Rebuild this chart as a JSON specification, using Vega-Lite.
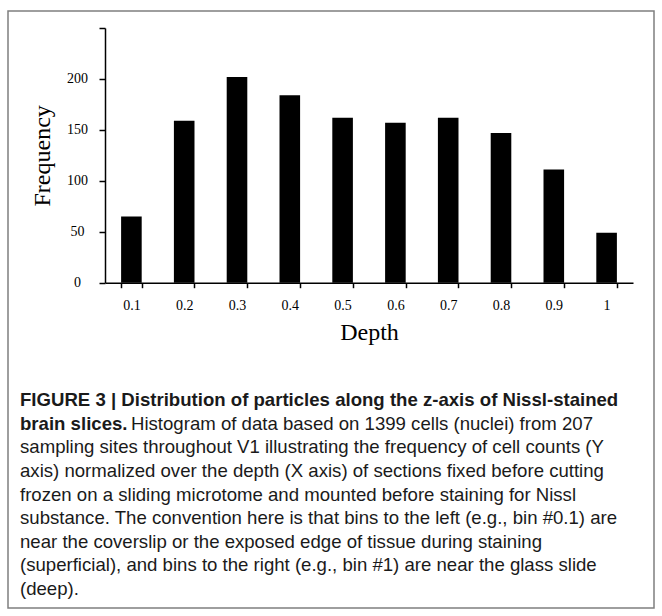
{
  "$schema": "https://vega.github.io/schema/vega-lite/v6.json",
  "width": 646,
  "height": 597,
  "padding": {"left": 8, "top": 11, "right": 8, "bottom": 8},
  "autosize": {"type": "none"},
  "background": "white",
  "config": {
    "view": {"stroke": "#7f7f7f", "strokeWidth": 1.5},
    "axis": {"domainColor": "black", "tickColor": "black", "labelColor": "black", "titleColor": "black", "grid": false, "labelFont": "Liberation Serif", "titleFont": "Liberation Serif", "titleFontWeight": "normal"}
  },
  "datasets": {
    "bars": [
      {"depth": "0.1", "frequency": 65},
      {"depth": "0.2", "frequency": 159},
      {"depth": "0.3", "frequency": 202},
      {"depth": "0.4", "frequency": 184},
      {"depth": "0.5", "frequency": 162},
      {"depth": "0.6", "frequency": 157},
      {"depth": "0.7", "frequency": 162},
      {"depth": "0.8", "frequency": 147},
      {"depth": "0.9", "frequency": 111},
      {"depth": "1", "frequency": 49}
    ],
    "caption": [
      {"line": 1, "part": "title", "text": "FIGURE 3 | Distribution of particles along the z-axis of Nissl-stained"},
      {"line": 2, "part": "title", "text": "brain slices."},
      {"line": 2, "part": "lead", "text": "Histogram of data based on 1399 cells (nuclei) from 207"},
      {"line": 3, "part": "body", "text": "sampling sites throughout V1 illustrating the frequency of cell counts (Y"},
      {"line": 4, "part": "body", "text": "axis) normalized over the depth (X axis) of sections fixed before cutting"},
      {"line": 5, "part": "body", "text": "frozen on a sliding microtome and mounted before staining for Nissl"},
      {"line": 6, "part": "body", "text": "substance. The convention here is that bins to the left (e.g., bin #0.1) are"},
      {"line": 7, "part": "body", "text": "near the coverslip or the exposed edge of tissue during staining"},
      {"line": 8, "part": "body", "text": "(superficial), and bins to the right (e.g., bin #1) are near the glass slide"},
      {"line": 9, "part": "body", "text": "(deep)."}
    ]
  },
  "layer": [
    {
      "data": {"name": "bars"},
      "mark": {"type": "bar", "color": "black"},
      "encoding": {
        "x": {
          "field": "depth", "type": "ordinal",
          "scale": {"range": [97, 625], "paddingInner": 0.61, "paddingOuter": 0.305},
          "axis": {"title": "Depth", "labelAngle": 0, "offset": -325.3, "tickBand": "extent", "tickSize": 5, "domainWidth": 1.5, "tickWidth": 1.5, "labelFontSize": 14, "labelPadding": 11, "titleFontSize": 24, "titlePadding": 8}
        },
        "y": {
          "field": "frequency", "type": "quantitative",
          "scale": {"domain": [0, 250], "range": [271.7, 17], "nice": false},
          "axis": {"title": "Frequency", "offset": -97, "values": [0, 50, 100, 150, 200, 250], "labelExpr": "datum.value == 250 ? '' : datum.label", "tickSize": 6, "domainWidth": 1.5, "tickWidth": 1.5, "labelFontSize": 14, "labelAlign": "center", "labelPadding": 22, "titleFontSize": 24, "titlePadding": 12}
        }
      }
    },
    {
      "data": {"name": "caption"},
      "transform": [{"filter": "datum.part == 'title'"}],
      "mark": {"type": "text", "align": "left", "baseline": "middle", "font": "Liberation Sans", "fontWeight": "bold", "fontSize": 18.6, "color": "#1a1a1a"},
      "encoding": {
        "x": {"datum": 0, "type": "quantitative", "scale": {"domain": [0, 1], "range": [12, 646]}, "axis": null},
        "y": {"field": "line", "type": "quantitative", "scale": {"domain": [1, 9], "range": [389, 578]}, "axis": null},
        "text": {"field": "text"}
      }
    },
    {
      "data": {"name": "caption"},
      "transform": [{"filter": "datum.part == 'lead'"}],
      "mark": {"type": "text", "align": "left", "baseline": "middle", "font": "Liberation Sans", "fontSize": 18.6, "dx": 111, "color": "#1a1a1a"},
      "encoding": {
        "x": {"datum": 0, "type": "quantitative", "scale": {"domain": [0, 1], "range": [12, 646]}, "axis": null},
        "y": {"field": "line", "type": "quantitative", "scale": {"domain": [1, 9], "range": [389, 578]}, "axis": null},
        "text": {"field": "text"}
      }
    },
    {
      "data": {"name": "caption"},
      "transform": [{"filter": "datum.part == 'body'"}],
      "mark": {"type": "text", "align": "left", "baseline": "middle", "font": "Liberation Sans", "fontSize": 18.6, "color": "#1a1a1a"},
      "encoding": {
        "x": {"datum": 0, "type": "quantitative", "scale": {"domain": [0, 1], "range": [12, 646]}, "axis": null},
        "y": {"field": "line", "type": "quantitative", "scale": {"domain": [1, 9], "range": [389, 578]}, "axis": null},
        "text": {"field": "text"}
      }
    }
  ],
  "resolve": {"scale": {"x": "independent", "y": "independent"}}
}
